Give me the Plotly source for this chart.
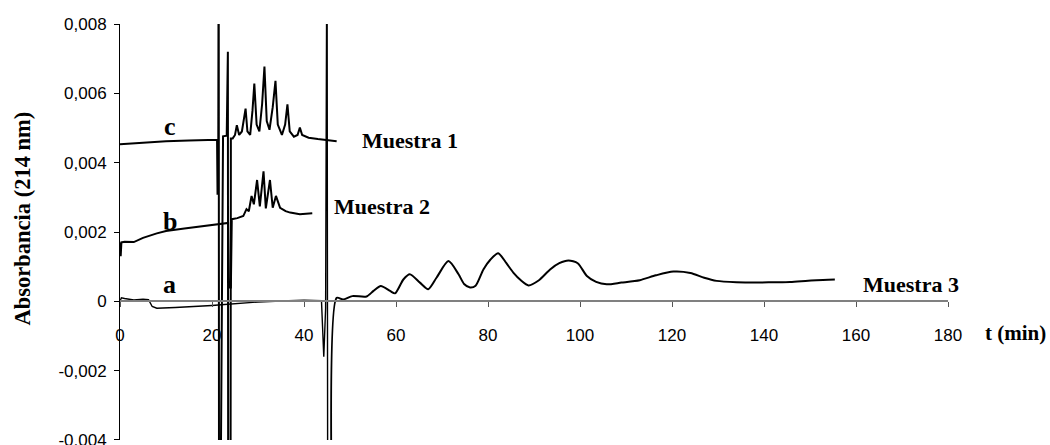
import plotly.graph_objects as go

# Sample 3 (trace a): time (min) and absorbance at 214 nm
a_t = [0, 0.3, 1, 3, 5, 6.2, 7, 8, 12, 16, 20, 22, 26, 30, 35, 40, 43.8,
       44.3, 44.7, 45.0, 45.2, 46.9, 47.1, 48.5, 50.5, 53.6, 55.1, 56.7, 58.7,
       59.8, 61.6, 63.0, 65.2, 67.0, 68.8, 71.4, 73.6, 74.8, 76.1, 77.3, 79.0,
       80.5, 82.2, 84.0, 85.5, 87.2, 88.8, 91.0, 93.5, 95.5, 97.5, 99.5, 101.5,
       103.5, 105.8, 109.0, 113.0, 116.5, 120.3, 124.0, 127.0, 129.7, 134.0,
       138.4, 142.0, 145.7, 149.0, 151.4, 155.4]
a_abs = [0.0, 0.0001, 0.00008, 0.00004, 0.00006, 0.00005, -0.00015, -0.0002,
         -0.00018, -0.00016, -0.00012, -0.0001, -0.00005, -0.00002, 0.00001,
         0.00003, 0.00002, -0.0016, -0.0002, 0.012, -0.012, -0.012, 0.0001,
         0.00005, 0.00015, 0.00014, 0.0003, 0.00044, 0.0003, 0.00023, 0.00063,
         0.00078, 0.00054, 0.00035, 0.00068, 0.00116, 0.00078, 0.0005, 0.0004,
         0.00045, 0.00092, 0.0012, 0.00139, 0.0011, 0.00083, 0.0006, 0.00046,
         0.0006, 0.00092, 0.0011, 0.00118, 0.0011, 0.00073, 0.00056, 0.00049,
         0.00054, 0.00061, 0.00075, 0.00086, 0.00082, 0.00068, 0.00059, 0.00055,
         0.00054, 0.00055, 0.00056, 0.00059, 0.00061, 0.00063]

# Sample 2 (trace b)
b_t = [0, 0.15, 0.3, 1, 3, 5, 8, 10, 14, 17.4, 20, 23.5, 23.7, 24.1, 24.3,
       25.5, 26.8, 27.5, 28.0, 28.6, 29.1, 29.8, 30.4, 31.2, 31.7, 32.6, 33.2,
       33.9, 34.8, 36.0, 37.0, 39.1, 41.8]
b_abs = [0.0017, 0.0013, 0.0017, 0.00172, 0.00171, 0.00183, 0.00196, 0.00203,
         0.0021, 0.00216, 0.0022, 0.00226, 0.0004, 0.0004, 0.00237, 0.0024,
         0.00246, 0.00266, 0.0026, 0.00304, 0.0028, 0.0035, 0.00274, 0.00375,
         0.00268, 0.0035, 0.0027, 0.00304, 0.0027, 0.0026, 0.00256, 0.00251,
         0.00254]

# Sample 1 (trace c)
c_t = [0, 2, 5, 10, 15, 20, 21.1, 21.2, 21.35, 21.45, 21.55, 22.4, 23.2,
       23.45, 23.55, 24.0, 24.1, 24.5, 25.0, 25.4, 25.9, 26.5, 27.0, 27.3,
       27.7, 28.3, 28.8, 29.2, 29.7, 30.3, 30.9, 31.4, 31.9, 32.5, 33.2, 33.8,
       34.3, 35.2, 35.9, 36.4, 36.9, 37.8, 38.6, 39.1, 39.6, 41.0, 43.0, 45.0,
       47.1]
c_abs = [0.00453, 0.00455, 0.00458, 0.00462, 0.00464, 0.00466, 0.00466,
         0.0031, 0.0031, 0.012, -0.012, 0.00476, 0.00478, 0.0072, -0.012,
         -0.012, 0.0047, 0.0047, 0.0048, 0.00508, 0.0048, 0.0049, 0.0053,
         0.00556, 0.0049, 0.0048, 0.0055, 0.00628, 0.0051, 0.0049, 0.0057,
         0.00677, 0.0052, 0.00495, 0.0056, 0.00636, 0.0051, 0.0048, 0.0051,
         0.00568, 0.0049, 0.00475, 0.0048, 0.00501, 0.0048, 0.00472, 0.00468,
         0.00465, 0.00462]

x_ticks = [0, 20, 40, 60, 80, 100, 120, 140, 160, 180]
x_ticktext = ["0", "20", "40", "60", "80", "100", "120", "140", "160", "180"]
y_ticks = [-0.004, -0.002, 0, 0.002, 0.004, 0.006, 0.008]
y_ticktext = ["-0,004", "-0,002", "0", "0,002", "0,004", "0,006", "0,008"]

SERIF = "Liberation Serif, Times New Roman, serif"
SANS = "Liberation Sans, Arial, sans-serif"

fig = go.Figure()
# trace a: split at the injection artefact so the broad peaks can be smoothed
split = a_t.index(47.1)
fig.add_trace(go.Scatter(x=a_t[:split], y=a_abs[:split], mode="lines",
                         line=dict(color="black", width=1.4),
                         showlegend=False, hoverinfo="skip"))
fig.add_trace(go.Scatter(x=a_t[split - 1:], y=a_abs[split - 1:], mode="lines",
                         line=dict(color="black", width=2, shape="spline",
                                   smoothing=0.7),
                         showlegend=False, hoverinfo="skip"))
for t, v in [(b_t, b_abs), (c_t, c_abs)]:
    fig.add_trace(go.Scatter(x=t, y=v, mode="lines",
                             line=dict(color="black", width=2),
                             showlegend=False, hoverinfo="skip"))

label_font = dict(family=SERIF, size=26, color="black")
name_font = dict(family=SERIF, size=22, color="black")
annotations = [
    dict(x=10.9, y=0.00503, text="<b>c</b>", font=label_font),
    dict(x=10.9, y=0.0023, text="<b>b</b>", font=label_font),
    dict(x=10.7, y=0.0005, text="<b>a</b>", font=label_font),
]
for txt, x, y in [("Muestra 1", 52.2, 0.00463), ("Muestra 2", 46.1, 0.00274),
                  ("Muestra 3", 161.1, 0.00049)]:
    annotations.append(dict(x=x, y=y, text=f"<b>{txt}</b>", font=name_font,
                            xanchor="left"))
annotations.append(dict(xref="paper", x=1.081, y=-0.0009,
                        text="<b>t (min)</b>",
                        font=dict(family=SERIF, size=21, color="black")))
annotations.append(dict(xref="paper", x=-0.118, y=0.0024,
                        text="<b>Absorbancia (214 nm)</b>", textangle=-90,
                        font=dict(family=SERIF, size=22.5, color="black")))
for an in annotations:
    an.setdefault("xref", "x")
    an["yref"] = "y"
    an["showarrow"] = False
    an.setdefault("xanchor", "center")
    an["yanchor"] = "middle"

fig.update_layout(
    width=1050, height=445,
    margin=dict(l=120, r=102, t=24, b=5, autoexpand=False),
    paper_bgcolor="white", plot_bgcolor="white",
    annotations=annotations,
    xaxis=dict(range=[0, 180], anchor="free", position=1/3,
               tickvals=x_ticks, ticktext=x_ticktext, automargin=False,
               showline=True, linecolor="#808080", linewidth=1.5,
               ticks="outside", ticklen=5, tickcolor="#555555",
               ticklabelstandoff=14,
               showgrid=False, zeroline=False,
               tickfont=dict(family=SANS, size=17, color="black")),
    yaxis=dict(range=[-0.0040005, 0.0080005], tickvals=y_ticks,
               ticktext=y_ticktext, ticklabeloverflow="allow",
               automargin=False,
               showline=True, linecolor="black", linewidth=1,
               ticks="outside", ticklen=5, tickcolor="black",
               ticklabelstandoff=4,
               showgrid=False, zeroline=False,
               tickfont=dict(family=SANS, size=17, color="black")),
)

fig.write_html("out.html")
